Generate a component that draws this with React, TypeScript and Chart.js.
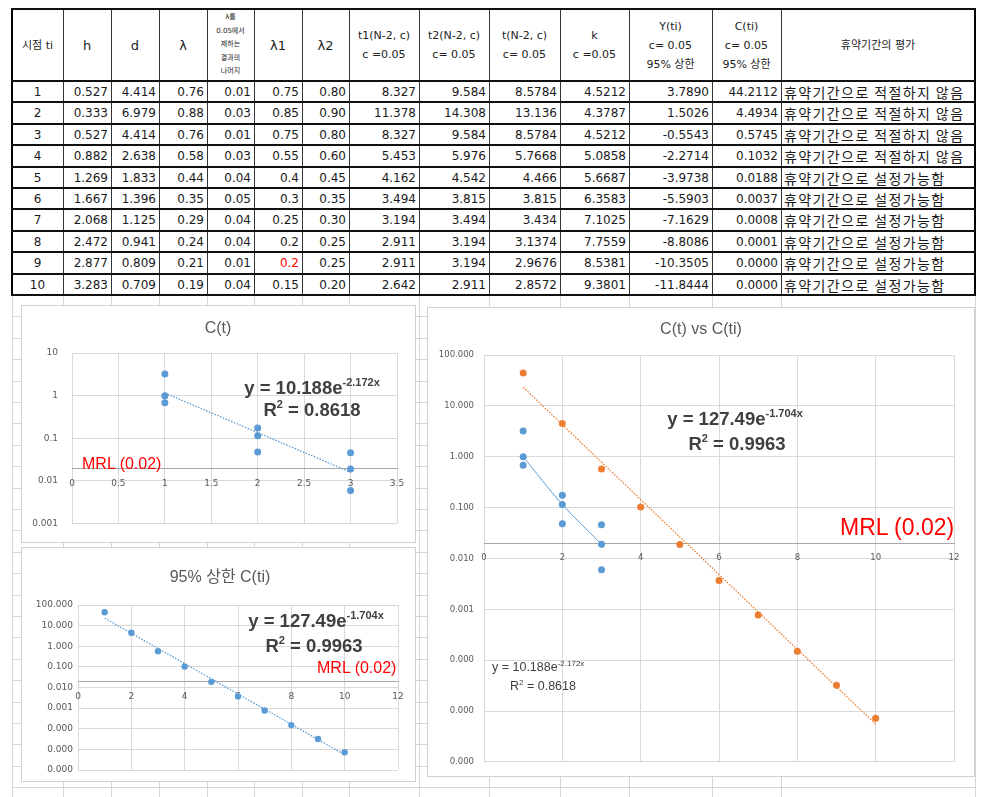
import React, { useEffect, useRef } from "react";
import { Chart, registerables } from "chart.js";

Chart.register(...registerables);

// ---------------- table data ----------------
const TI = ["1", "2", "3", "4", "5", "6", "7", "8", "9", "10"];
const H = ["0.527", "0.333", "0.527", "0.882", "1.269", "1.667", "2.068", "2.472", "2.877", "3.283"];
const D = ["4.414", "6.979", "4.414", "2.638", "1.833", "1.396", "1.125", "0.941", "0.809", "0.709"];
const LAMBDA = ["0.76", "0.88", "0.76", "0.58", "0.44", "0.35", "0.29", "0.24", "0.21", "0.19"];
const LAMBDA_REM = ["0.01", "0.03", "0.01", "0.03", "0.04", "0.05", "0.04", "0.04", "0.01", "0.04"];
const LAMBDA1 = ["0.75", "0.85", "0.75", "0.55", "0.4", "0.3", "0.25", "0.2", "0.2", "0.15"];
const LAMBDA2 = ["0.80", "0.90", "0.80", "0.60", "0.45", "0.35", "0.30", "0.25", "0.25", "0.20"];
const T1 = ["8.327", "11.378", "8.327", "5.453", "4.162", "3.494", "3.194", "2.911", "2.911", "2.642"];
const T2 = ["9.584", "14.308", "9.584", "5.976", "4.542", "3.815", "3.494", "3.194", "3.194", "2.911"];
const TT = ["8.5784", "13.136", "8.5784", "5.7668", "4.466", "3.815", "3.434", "3.1374", "2.9676", "2.8572"];
const K = ["4.5212", "4.3787", "4.5212", "5.0858", "5.6687", "6.3583", "7.1025", "7.7559", "8.5381", "9.3801"];
const YTI = ["3.7890", "1.5026", "-0.5543", "-2.2714", "-3.9738", "-5.5903", "-7.1629", "-8.8086", "-10.3505", "-11.8444"];
const CTI_TXT = ["44.2112", "4.4934", "0.5745", "0.1032", "0.0188", "0.0037", "0.0008", "0.0001", "0.0000", "0.0000"];
const EVAL_TXT = [
  "휴약기간으로 적절하지 않음", "휴약기간으로 적절하지 않음", "휴약기간으로 적절하지 않음", "휴약기간으로 적절하지 않음",
  "휴약기간으로 설정가능함", "휴약기간으로 설정가능함", "휴약기간으로 설정가능함", "휴약기간으로 설정가능함",
  "휴약기간으로 설정가능함", "휴약기간으로 설정가능함",
];
const HEADERS: string[][] = [
  ["시점 ti"], ["h"], ["d"], ["λ"], ["λ를", "0.05에서", "제하는", "결과의", "나머지"], ["λ1"], ["λ2"],
  ["t1(N-2, c)", "c =0.05"], ["t2(N-2, c)", "c= 0.05"], ["t(N-2, c)", "c= 0.05"], ["k", "c =0.05"],
  ["Y(ti)", "c= 0.05", "95% 상한"], ["C(ti)", "c= 0.05", "95% 상한"], ["휴약기간의 평가"],
];
const RED_ROW = 8;
const RED_COL = 5;

// ---------------- chart data ----------------
const CT_X = [1, 1, 1, 2, 2, 2, 3, 3, 3];
const CT_Y = [3.2, 1.0, 0.68, 0.175, 0.115, 0.048, 0.046, 0.019, 0.006];
const CT_TREND_X = [1, 3];
const CT_TREND_Y = [1.15, 0.016];
const CT_LINE_X = [1, 2, 3];
const CT_LINE_Y = [1.0, 0.115, 0.019];
const CTI_X = [1, 2, 3, 4, 5, 6, 7, 8, 9, 10];
const CTI_Y = [44.2112, 4.4934, 0.5745, 0.1032, 0.0188, 0.0037, 0.00077, 0.00015, 0.000032, 0.0000072];
const CTI_TREND_X = [1, 10];
const CTI_TREND_Y = [23.3, 0.0000055];
const MRL = 0.02;
const Y_TICKS_A = [0.001, 0.01, 0.1, 1, 10];
const Y_LABELS_A = ["0.001", "0.01", "0.1", "1", "10"];
const Y_TICKS_B = [0.000001, 0.00001, 0.0001, 0.001, 0.01, 0.1, 1, 10, 100];
const Y_LABELS_B = ["0.000", "0.000", "0.000", "0.001", "0.010", "0.100", "1.000", "10.000", "100.000"];
const X_TICKS_A = [0, 0.5, 1, 1.5, 2, 2.5, 3, 3.5];
const X_LABELS_A = ["0", "0.5", "1", "1.5", "2", "2.5", "3", "3.5"];
const X_TICKS_B = [0, 2, 4, 6, 8, 10, 12];
const X_LABELS_B = ["0", "2", "4", "6", "8", "10", "12"];

// ---------------- styles ----------------
const BLUE = "#5B9BD5";
const ORANGE = "#ED7D31";
const GRID = "#d9d9d9";
const AXIS = "#a6a6a6";
const TXT = "#595959";

const pts = (xs: number[], ys: number[]) => xs.map((x, i) => ({ x, y: ys[i] }));

type Spec = {
  left: number; top: number; width: number; height: number;
  yWidth: number; yPad: number; padTop: number; padRight: number; padBottom: number;
  xTicks: number[]; xLabels: string[]; yTicks: number[]; yLabels: string[];
  fontSize: number; datasets: any[];
};

function LogChart({ spec }: { spec: Spec }) {
  const ref = useRef<HTMLCanvasElement>(null);
  useEffect(() => {
    const font = { family: "DejaVu Sans", size: spec.fontSize };
    const chart = new Chart(ref.current as HTMLCanvasElement, {
      type: "scatter",
      data: { datasets: spec.datasets },
      options: {
        animation: false,
        responsive: false,
        maintainAspectRatio: false,
        devicePixelRatio: 1,
        layout: { padding: { left: 0, top: spec.padTop, right: spec.padRight, bottom: spec.padBottom } },
        plugins: { legend: { display: false }, tooltip: { enabled: false }, title: { display: false } },
        scales: {
          x: {
            type: "linear",
            min: spec.xTicks[0],
            max: spec.xTicks[spec.xTicks.length - 1],
            position: { y: MRL } as any,
            afterBuildTicks: (ax: any) => { ax.ticks = spec.xTicks.map((value) => ({ value })); },
            ticks: {
              padding: 10, font, color: TXT, autoSkip: false, maxRotation: 0,
              callback: (_v: any, i: number) => spec.xLabels[i],
            },
            grid: { color: GRID, lineWidth: 1, drawTicks: false },
            border: { display: true, color: AXIS, width: 1 },
          },
          y: {
            type: "logarithmic",
            min: spec.yTicks[0],
            max: spec.yTicks[spec.yTicks.length - 1],
            position: "left",
            afterBuildTicks: (ax: any) => { ax.ticks = spec.yTicks.map((value) => ({ value })); },
            afterFit: (ax: any) => { ax.width = spec.yWidth; },
            ticks: {
              padding: spec.yPad, font, color: TXT, autoSkip: false,
              callback: (_v: any, i: number) => spec.yLabels[i],
            },
            grid: { color: GRID, lineWidth: 1, drawTicks: false },
            border: { display: false },
          },
        },
      } as any,
    });
    return () => chart.destroy();
  }, []);
  return (
    <canvas
      ref={ref}
      width={spec.width}
      height={spec.height}
      style={{ position: "absolute", left: spec.left, top: spec.top, width: spec.width, height: spec.height }}
    />
  );
}

const scatterSet = (xs: number[], ys: number[], color: string, r: number) => ({
  data: pts(xs, ys), showLine: false, pointRadius: r, pointBorderWidth: 0,
  pointBackgroundColor: color, backgroundColor: color, borderColor: color,
});
const trendSet = (xs: number[], ys: number[], color: string) => ({
  data: pts(xs, ys), showLine: true, pointRadius: 0, borderColor: color, borderWidth: 1.3,
  borderDash: [1.5, 1.5], fill: false,
});

const CHART1: Spec = {
  left: 21, top: 305, width: 395, height: 238,
  yWidth: 51, yPad: 14, padTop: 48, padRight: 19, padBottom: 16,
  xTicks: X_TICKS_A, xLabels: X_LABELS_A, yTicks: Y_TICKS_A, yLabels: Y_LABELS_A, fontSize: 9,
  datasets: [trendSet(CT_TREND_X, CT_TREND_Y, BLUE), scatterSet(CT_X, CT_Y, BLUE, 3.5)],
};
const CHART2: Spec = {
  left: 21, top: 547, width: 395, height: 235,
  yWidth: 57, yPad: 5, padTop: 58, padRight: 18, padBottom: 12,
  xTicks: X_TICKS_B, xLabels: X_LABELS_B, yTicks: Y_TICKS_B, yLabels: Y_LABELS_B, fontSize: 9,
  datasets: [trendSet(CTI_TREND_X, CTI_TREND_Y, BLUE), scatterSet(CTI_X, CTI_Y, BLUE, 3.2)],
};
const CHART3: Spec = {
  left: 427, top: 307, width: 548, height: 470,
  yWidth: 57, yPad: 10, padTop: 48, padRight: 21, padBottom: 13,
  xTicks: X_TICKS_B, xLabels: X_LABELS_B, yTicks: Y_TICKS_B, yLabels: Y_LABELS_B, fontSize: 8.5,
  datasets: [
    trendSet(CTI_TREND_X, CTI_TREND_Y, ORANGE),
    { data: pts(CT_LINE_X, CT_LINE_Y), showLine: true, pointRadius: 0, borderColor: BLUE, borderWidth: 1, tension: 0.3, fill: false },
    scatterSet(CT_X, CT_Y, BLUE, 3.5),
    scatterSet(CTI_X, CTI_Y, ORANGE, 3.5),
  ],
};

// ---------------- layout helpers ----------------
const COLX = [12, 63, 111, 159, 207, 254, 302, 349, 419, 489, 560, 629, 712, 781, 975];
const HEAD_TOP = 9;
const HEAD_BOT = 81;
const ROW_H = 21.4;
const rowTop = (i: number) => Math.round(HEAD_BOT + i * ROW_H);

const CJK = "'DejaVu Sans', 'Noto Sans CJK KR', sans-serif";
const KR = "'Noto Sans CJK KR', sans-serif";
const LAT = "'Liberation Sans', 'Noto Sans CJK KR', sans-serif";

function Txt({ x, y, anchor = "middle", style, children }: any) {
  const tx = anchor === "middle" ? "-50%" : anchor === "end" ? "-100%" : "0";
  return (
    <div style={{ position: "absolute", left: x, top: y, transform: `translate(${tx}, -50%)`, whiteSpace: "nowrap", lineHeight: 1, ...style }}>
      {children}
    </div>
  );
}

function Table() {
  const cols = [TI, H, D, LAMBDA, LAMBDA_REM, LAMBDA1, LAMBDA2, T1, T2, TT, K, YTI, CTI_TXT, EVAL_TXT];
  const cells: any[] = [];
  const lines: any[] = [];
  HEADERS.forEach((lns, c) => {
    const small = lns.length === 5;
    const single = lns.length === 1 && lns[0].length <= 2;
    cells.push(
      <div key={"h" + c} style={{
        position: "absolute", left: COLX[c], top: HEAD_TOP, width: COLX[c + 1] - COLX[c], height: HEAD_BOT - HEAD_TOP,
        display: "flex", flexDirection: "column", justifyContent: "center", alignItems: "center",
        fontFamily: CJK, fontSize: small ? 7 : single ? 13 : 11, lineHeight: small ? "13.5px" : "19px",
        color: "#222", textAlign: "center", whiteSpace: "nowrap",
      }}>
        {lns.map((l, i) => <div key={i}>{l}</div>)}
      </div>
    );
  });
  for (let r = 0; r < 10; r++) {
    cols.forEach((col, c) => {
      const last = c === cols.length - 1;
      const align = c === 0 ? "center" : last ? "flex-start" : "flex-end";
      cells.push(
        <div key={`c${r}_${c}`} style={{
          position: "absolute", left: COLX[c], top: rowTop(r), width: COLX[c + 1] - COLX[c], height: rowTop(r + 1) - rowTop(r),
          display: "flex", alignItems: "center", justifyContent: align, boxSizing: "border-box",
          paddingRight: last || c === 0 ? 0 : 3, paddingLeft: last ? 3 : 0,
          fontFamily: last ? KR : CJK, fontSize: last ? 14 : 12, letterSpacing: last ? 1.4 : 0,
          color: r === RED_ROW && c === RED_COL ? "#ff0000" : "#1a1a1a", whiteSpace: "nowrap", overflow: "hidden",
        }}>
          {col[r]}
        </div>
      );
    });
  }
  COLX.forEach((x, i) => {
    const outer = i === 0 || i === COLX.length - 1;
    lines.push(<div key={"v" + i} style={{ position: "absolute", left: x - (outer ? 1 : 0), top: HEAD_TOP, width: outer ? 2 : 1, height: rowTop(10) - HEAD_TOP + 1, background: outer ? "#000" : "#333" }} />);
  });
  const ys = [HEAD_TOP, ...Array.from({ length: 11 }, (_, i) => rowTop(i))];
  ys.forEach((y, i) => {
    lines.push(<div key={"hl" + i} style={{ position: "absolute", left: COLX[0] - 1, top: y - 1, width: COLX[COLX.length - 1] - COLX[0] + 2, height: 2, background: "#111" }} />);
  });
  return <>{cells}{lines}</>;
}

function SheetGrid() {
  const items: any[] = [];
  COLX.forEach((x, i) => items.push(<div key={"gv" + i} style={{ position: "absolute", left: x, top: 296, width: 1, height: 797 - 296, background: "#d6d6d6" }} />));
  for (let y = 295 + ROW_H, i = 0; y < 797; y += ROW_H, i++) {
    items.push(<div key={"gh" + i} style={{ position: "absolute", left: COLX[0], top: Math.round(y), width: COLX[COLX.length - 1] - COLX[0], height: 1, background: "#d6d6d6" }} />);
  }
  return <>{items}</>;
}

function Frame({ spec }: { spec: Spec }) {
  return <div style={{ position: "absolute", left: spec.left, top: spec.top, width: spec.width - 2, height: spec.height - 2, border: "1px solid #d0d0d0", background: "#fff" }} />;
}

const eqStyle = { fontFamily: LAT, fontWeight: 700, fontSize: 18.5, color: "#404040" };
const supStyle = { fontSize: 11, verticalAlign: "8px" } as any;
const titleStyle = { fontFamily: LAT, fontSize: 16, color: TXT };

export default function App() {
  return (
    <div style={{ position: "absolute", left: 0, top: 0, width: 987, height: 797, background: "#fff", overflow: "hidden" }}>
      <SheetGrid />
      <Table />
      <Frame spec={CHART1} />
      <Frame spec={CHART2} />
      <Frame spec={CHART3} />
      <LogChart spec={CHART1} />
      <LogChart spec={CHART2} />
      <LogChart spec={CHART3} />

      <Txt x={218} y={328} style={titleStyle}>C(t)</Txt>
      <Txt x={312} y={387} style={eqStyle}>y = 10.188e<span style={supStyle}>-2.172x</span></Txt>
      <Txt x={312} y={409} style={eqStyle}>R<span style={supStyle}>2</span> = 0.8618</Txt>
      <Txt x={82} y={464} anchor="start" style={{ fontFamily: LAT, fontSize: 16, color: "#ff0000" }}>MRL (0.02)</Txt>

      <Txt x={220} y={577} style={titleStyle}>95% 상한 C(ti)</Txt>
      <Txt x={316} y={620} style={eqStyle}>y = 127.49e<span style={supStyle}>-1.704x</span></Txt>
      <Txt x={314} y={645} style={eqStyle}>R<span style={supStyle}>2</span> = 0.9963</Txt>
      <Txt x={317} y={668} anchor="start" style={{ fontFamily: LAT, fontSize: 16, color: "#ff0000" }}>MRL (0.02)</Txt>

      <Txt x={701} y={329} style={titleStyle}>C(t) vs C(ti)</Txt>
      <Txt x={735} y={418} style={eqStyle}>y = 127.49e<span style={supStyle}>-1.704x</span></Txt>
      <Txt x={737} y={443} style={eqStyle}>R<span style={supStyle}>2</span> = 0.9963</Txt>
      <Txt x={840} y={527} anchor="start" style={{ fontFamily: LAT, fontSize: 23, color: "#ff0000" }}>MRL (0.02)</Txt>
      <Txt x={492} y={667} anchor="start" style={{ fontFamily: LAT, fontSize: 12.5, color: "#404040" }}>y = 10.188e<span style={{ fontSize: 8, verticalAlign: "5px" }}>-2.172x</span></Txt>
      <Txt x={510} y={686} anchor="start" style={{ fontFamily: LAT, fontSize: 12.5, color: "#404040" }}>R<span style={{ fontSize: 8, verticalAlign: "5px" }}>2</span> = 0.8618</Txt>
    </div>
  );
}
